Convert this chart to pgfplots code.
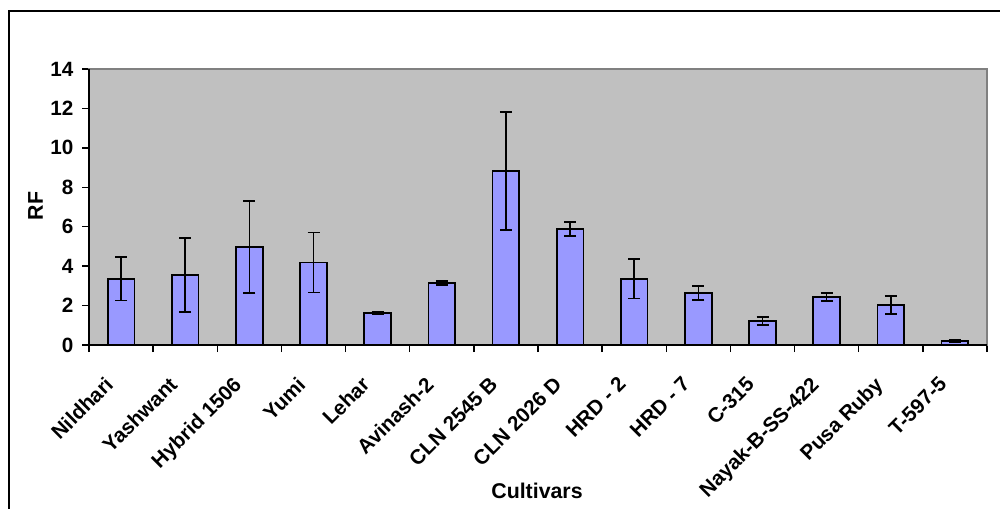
\documentclass[border=0pt]{standalone}
\usepackage{pgfplots}
\pgfplotsset{compat=1.18}
\usepackage{fontspec}
\setmainfont{Liberation Sans}
\definecolor{barfill}{HTML}{9999FF}
\definecolor{plotbg}{HTML}{C0C0C0}
\definecolor{plotborder}{HTML}{808080}
\begin{document}
\begin{tikzpicture}
\useasboundingbox (0pt,0pt) rectangle (750pt,381pt);
\draw[line width=1.5pt,line cap=rect] (6.75pt,-2pt) -- (6.75pt,373pt) -- (752pt,373pt);
\begin{axis}[
  at={(66.75pt,122.25pt)}, anchor=south west,
  scale only axis,
  width=673.5pt, height=207pt,
  xmin=-0.5, xmax=13.5,
  ymin=0, ymax=14,
  ytick={0,2,...,14},
  xtick={0,...,13},
  xticklabels={Nildhari,Yashwant,Hybrid 1506,Yumi,Lehar,Avinash-2,CLN 2545 B,CLN 2026 D,HRD - 2,HRD - 7,C-315,Nayak-B-SS-422,Pusa Ruby,T-597-5},
  minor xtick={-0.5,0.5,...,13.5},
  major x tick style={draw=none},
  tick align=outside,
  xtick pos=bottom, ytick pos=left,
  major tick length=5.25pt,
  minor tick length=5.25pt,
  tick style={black, line width=1.1pt},
  axis background/.style={fill=plotbg},
  axis line style={draw=plotborder, line width=1.5pt},
  /pgf/number format/assume math mode=true,
  tick label style={font=\fontsize{15.5}{17}\selectfont\bfseries},
  xticklabel style={xshift=-13pt, yshift=-16pt, rotate=45, anchor=north east, inner sep=1pt},
  yticklabel style={xshift=-3pt},
  clip=false,
]
\addplot[ybar, bar width=20pt, fill=barfill, draw=black, line width=1.3pt,
  error bars/.cd, y dir=both, y explicit,
  error bar style={line width=1.2pt, black},
  error mark options={rotate=90, mark size=4.5pt, line width=1.2pt, black}]
  table[x=x, y=y, y error=e] {
x y e
0 3.35 1.10
1 3.55 1.87
2 4.97 2.33
3 4.18 1.52
4 1.62 0.07
5 3.15 0.10
6 8.83 3.00
7 5.89 0.35
8 3.35 1.00
9 2.64 0.35
10 1.22 0.20
11 2.44 0.20
12 2.03 0.45
13 0.20 0.08
};
\draw[black, line width=1.5pt] (rel axis cs:0,1) -- (rel axis cs:0,0) -- (rel axis cs:1,0);
\end{axis}
\node[rotate=90, font=\fontsize{16}{18}\selectfont\bfseries] at (26.6pt,226.5pt) {RF};
\node[font=\fontsize{16}{18}\selectfont\bfseries] at (402.75pt,12.75pt) {Cultivars};
\end{tikzpicture}
\end{document}
